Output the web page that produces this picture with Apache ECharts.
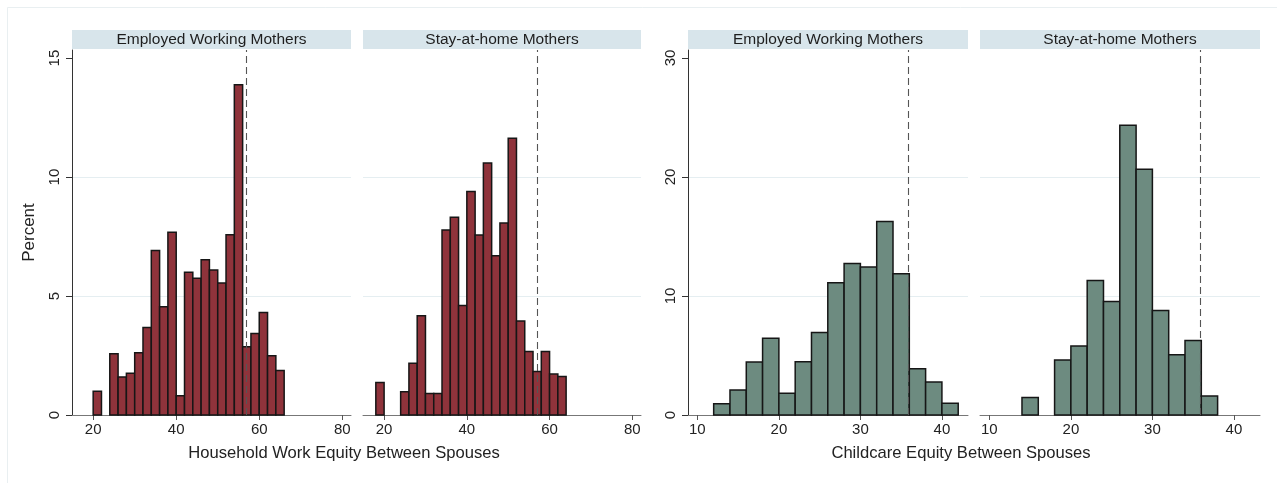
<!DOCTYPE html>
<html lang="en">
<head>
    <meta charset="UTF-8">
    <title>Equity Between Spouses</title>
    <script src="https://cdn.jsdelivr.net/npm/echarts@6/dist/echarts.min.js"></script>
    <style>
        * { margin: 0; padding: 0; }
        html, body { height: 100%; background: #fff; }
    </style>
</head>
<body>
<div id="main" style="width: 1277px;height: 483px"></div>
<script>
    // household work histogram, bins of width 2 starting at these values
    var hwBins = [18, 20, 22, 24, 26, 28, 30, 32, 34, 36, 38, 40, 42, 44, 46, 48, 50, 52, 54, 56, 58, 60, 62, 64];
    var hwEmployed = [0, 1.0, 0, 2.57, 1.60, 1.75, 2.62, 3.68, 6.91, 4.55, 7.68, 0.81, 6.0, 5.75, 6.52, 6.09, 5.55, 7.58, 13.88, 2.87, 3.43, 4.31, 2.49, 1.87];
    var hwStayHome = [1.37, 0, 0, 0.98, 2.18, 4.17, 0.90, 0.90, 7.78, 8.31, 4.60, 9.39, 7.57, 10.59, 6.69, 8.07, 11.63, 3.95, 2.67, 1.83, 2.67, 1.72, 1.62, 0];
    var hwMeans = [56.8, 57.0];

    // childcare histogram
    var ccBins = [12, 14, 16, 18, 20, 22, 24, 26, 28, 30, 32, 34, 36, 38, 40];
    var ccEmployed = [0.95, 2.10, 4.45, 6.44, 1.82, 4.48, 6.94, 11.11, 12.73, 12.43, 16.26, 11.87, 3.89, 2.77, 0.98];
    var ccStayHome = [0, 1.48, 0, 4.62, 5.79, 11.31, 9.54, 24.35, 20.65, 8.79, 5.07, 6.27, 1.60, 0, 0];
    var ccMeans = [35.9, 35.9];

    var binWidth = 2;
    var facetNames = ['Employed Working Mothers', 'Stay-at-home Mothers'];
    var hwTicks = [20, 40, 60, 80];
    var ccTicks = [10, 20, 30, 40];
    var hwYTicks = [0, 5, 10, 15];
    var ccYTicks = [0, 10, 20, 30];

    var FONT = 'Liberation Sans, Arial, Helvetica, sans-serif';
    var RED = '#8f333b';
    var GREEN = '#6d8b80';

    var grids = [
        {left: 72, top: 50, width: 279, height: 365},
        {left: 363, top: 50, width: 278, height: 365},
        {left: 688, top: 50, width: 280, height: 365},
        {left: 980, top: 50, width: 280, height: 365}
    ];

    function pairs(bins, vals) {
        var out = [];
        for (var i = 0; i < bins.length; i++) {
            if (vals[i] > 0) out.push([bins[i], vals[i]]);
        }
        return out;
    }

    function histSeries(idx, data, color) {
        return {
            type: 'custom',
            xAxisIndex: idx,
            yAxisIndex: idx,
            data: data,
            encode: {x: 0, y: 1},
            silent: true,
            renderItem: function (params, api) {
                var x0 = api.value(0);
                var v = api.value(1);
                var p0 = api.coord([x0, v]);
                var p1 = api.coord([x0 + binWidth, 0]);
                return {
                    type: 'rect',
                    shape: {x: p0[0], y: p0[1], width: p1[0] - p0[0], height: p1[1] - p0[1]},
                    style: {fill: color, stroke: '#161616', lineWidth: 1.5}
                };
            }
        };
    }

    function meanLine(idx, val) {
        return {
            type: 'line',
            xAxisIndex: idx,
            yAxisIndex: idx,
            data: [],
            silent: true,
            markLine: {
                silent: true,
                symbol: 'none',
                label: {show: false},
                lineStyle: {color: '#555', type: [7, 4], width: 1.1},
                data: [{xAxis: val}]
            }
        };
    }

    function xAxis(idx, min, max, ticks) {
        return {
            type: 'value', gridIndex: idx, min: min, max: max,
            axisLine: {show: true, lineStyle: {color: '#777', width: 1}},
            axisTick: {show: true, length: 5, customValues: ticks, lineStyle: {color: '#555'}},
            axisLabel: {customValues: ticks, color: '#222', fontFamily: FONT, fontSize: 15, margin: 7},
            splitLine: {show: false}
        };
    }

    function yAxis(idx, max, interval, ticks, showAxis, title) {
        return {
            type: 'value', gridIndex: idx, min: 0, max: max, interval: interval,
            name: title,
            nameLocation: 'middle', nameRotate: 90, nameGap: 34,
            nameTextStyle: {color: '#222', fontFamily: FONT, fontSize: 17},
            axisLine: {show: showAxis, lineStyle: {color: '#333', width: 1}},
            axisTick: {show: showAxis, length: 6, customValues: ticks, lineStyle: {color: '#333'}},
            axisLabel: {show: showAxis, customValues: ticks, rotate: 90, color: '#222', fontFamily: FONT, fontSize: 15, margin: 10},
            splitLine: {show: true, showMinLine: false, showMaxLine: false, lineStyle: {color: '#e5eef1', width: 1}}
        };
    }

    var graphics = [{
        type: 'rect', silent: true,
        shape: {x: 7.5, y: 7.5, width: 1300, height: 500},
        style: {fill: 'none', stroke: '#e9eff1', lineWidth: 1}
    }];
    grids.forEach(function (g, i) {
        graphics.push({
            type: 'rect', silent: true,
            shape: {x: g.left, y: 30, width: g.width, height: 19},
            style: {fill: '#d8e5eb'},
            textContent: {
                style: {text: facetNames[i % 2], fill: '#1e1e1e', font: '15.5px ' + FONT}
            },
            textConfig: {position: 'inside'}
        });
    });
    graphics.push({
        type: 'text', silent: true, x: 344, y: 453,
        style: {text: 'Household Work Equity Between Spouses', fill: '#222', font: '16.6px ' + FONT, align: 'center', verticalAlign: 'middle'}
    });
    graphics.push({
        type: 'text', silent: true, x: 961, y: 453,
        style: {text: 'Childcare Equity Between Spouses', fill: '#222', font: '16.6px ' + FONT, align: 'center', verticalAlign: 'middle'}
    });

    var myChart = echarts.init(document.getElementById('main'));
    var option = {
        backgroundColor: '#fff',
        animation: false,
        grid: grids,
        xAxis: [
            xAxis(0, 14.9, 82.1, hwTicks),
            xAxis(1, 14.9, 82.1, hwTicks),
            xAxis(2, 8.85, 43.2, ccTicks),
            xAxis(3, 8.85, 43.2, ccTicks)
        ],
        yAxis: [
            yAxis(0, 15.34, 5, hwYTicks, true, 'Percent'),
            yAxis(1, 15.34, 5, hwYTicks, false, ''),
            yAxis(2, 30.67, 10, ccYTicks, true, ''),
            yAxis(3, 30.67, 10, ccYTicks, false, '')
        ],
        series: [
            histSeries(0, pairs(hwBins, hwEmployed), RED),
            histSeries(1, pairs(hwBins, hwStayHome), RED),
            histSeries(2, pairs(ccBins, ccEmployed), GREEN),
            histSeries(3, pairs(ccBins, ccStayHome), GREEN),
            meanLine(0, hwMeans[0]),
            meanLine(1, hwMeans[1]),
            meanLine(2, ccMeans[0]),
            meanLine(3, ccMeans[1])
        ],
        graphic: graphics
    };
    myChart.setOption(option);
</script>
</body>
</html>
